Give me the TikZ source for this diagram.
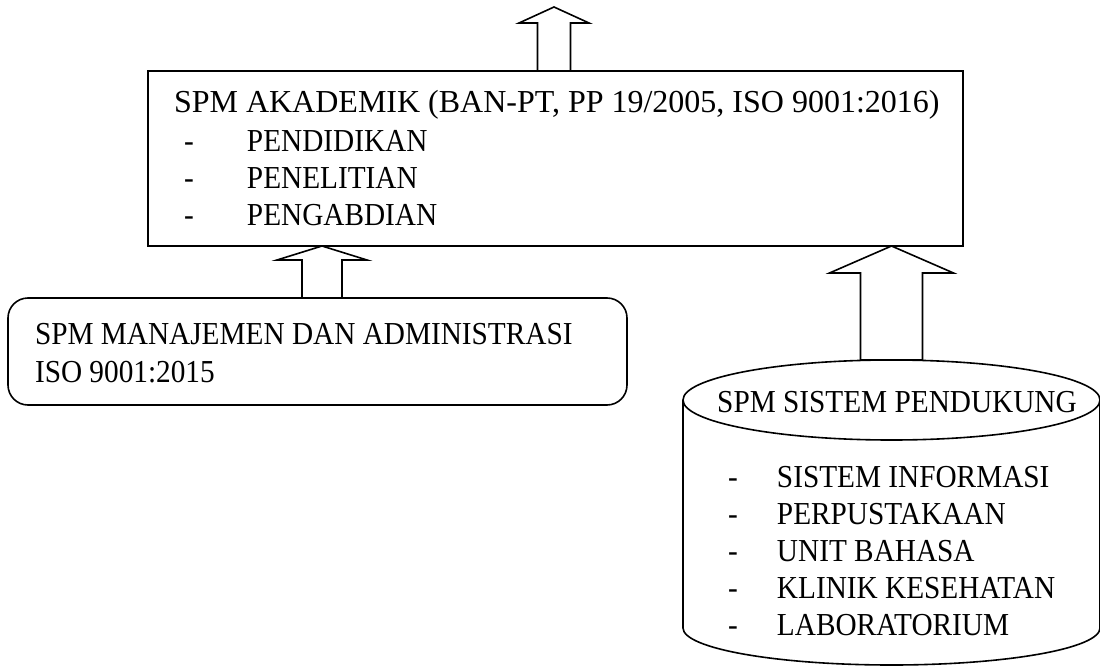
\documentclass[tikz,border=0pt]{standalone}
\usepackage{fontspec}
\setmainfont{Liberation Serif}[FakeStretch=0.915]
\newfontfamily\widefont{Liberation Serif}
\usetikzlibrary{calc}
\newcommand{\textsz}{\fontsize{32}{37}\selectfont}
\newcommand{\tabitem}[2]{\makebox[#1][l]{-}#2}
\tikzstyle{outline}=[draw, line width=1.6pt]
\tikzstyle{box}=[outline, inner sep=0, outer sep=0]
\tikzstyle{rbox}=[box, rounded corners=20pt]
\tikzstyle{txt}=[inner sep=0, outer sep=0, anchor=base west, font=\textsz]
\tikzstyle{bigarrow}=[outline, line join=miter, fill=white]
% block arrow: base, tip, half shaft, half head, head length
\newcommand{\blockarrow}[5]{%
  \draw[bigarrow] let \p1=(#1), \p2=(#2) in
    (\x1-#3pt,\y1) -- (\x1-#3pt,\y2-#5pt) -- (\x1-#4pt,\y2-#5pt) -- (\x1,\y2)
    -- (\x1+#4pt,\y2-#5pt) -- (\x1+#3pt,\y2-#5pt) -- (\x1+#3pt,\y1) -- cycle;}

\begin{document}
\begin{tikzpicture}[x=1pt, y=-1pt]
    \useasboundingbox (0,0) rectangle (1100,666);

    % main box
    \node[box, minimum width=815pt, minimum height=175pt] (akad) at (555.5,158.5) {};
    \node[txt, font=\textsz\widefont] (akadtitle) at (174,113) {SPM AKADEMIK (BAN-PT, PP 19/2005, ISO 9001:2016)};
    \node[txt] (akad1) at (184,151) {\tabitem{63pt}{PENDIDIKAN}};
    \node[txt] (akad2) at (184,188) {\tabitem{63pt}{PENELITIAN}};
    \node[txt] (akad3) at (184,225) {\tabitem{63pt}{PENGABDIAN}};

    % management box
    \node[rbox, minimum width=619pt, minimum height=107pt] (mgmt) at (317.5,351.5) {};
    \node[txt] (mgmt1) at (35,344) {SPM MANAJEMEN DAN ADMINISTRASI};
    \node[txt] (mgmt2) at (35,382) {ISO 9001:2015};

    % support cylinder
    \coordinate (pendukung) at (891.5,360);
    \draw[outline] (891.5,400) ellipse [x radius=208.5pt, y radius=40pt];
    \draw[outline] (683,400) -- (683,628)
        arc[start angle=180, end angle=360, x radius=208.5pt, y radius=37pt] -- (1100,400);
    \node[txt, anchor=base] (pendtitle) at (897,412) {SPM SISTEM PENDUKUNG};
    \node[txt] (pend1) at (728,487) {\tabitem{49pt}{SISTEM INFORMASI}};
    \node[txt] (pend2) at (728,524) {\tabitem{49pt}{PERPUSTAKAAN}};
    \node[txt] (pend3) at (728,561) {\tabitem{49pt}{UNIT BAHASA}};
    \node[txt] (pend4) at (728,598) {\tabitem{49pt}{KLINIK KESEHATAN}};
    \node[txt] (pend5) at (728,635) {\tabitem{49pt}{LABORATORIUM}};

    % arrows
    \coordinate (akadout) at (554,71);
    \coordinate (akadtop) at (554,7);
    \coordinate (mgmtout) at (322,298);
    \blockarrow{akadout}{akadtop}{16.5}{35}{16}
    \blockarrow{mgmtout}{akad.south -| mgmtout}{20}{45}{14}
    \blockarrow{pendukung}{akad.south -| pendukung}{31}{62}{27}
\end{tikzpicture}
\end{document}
